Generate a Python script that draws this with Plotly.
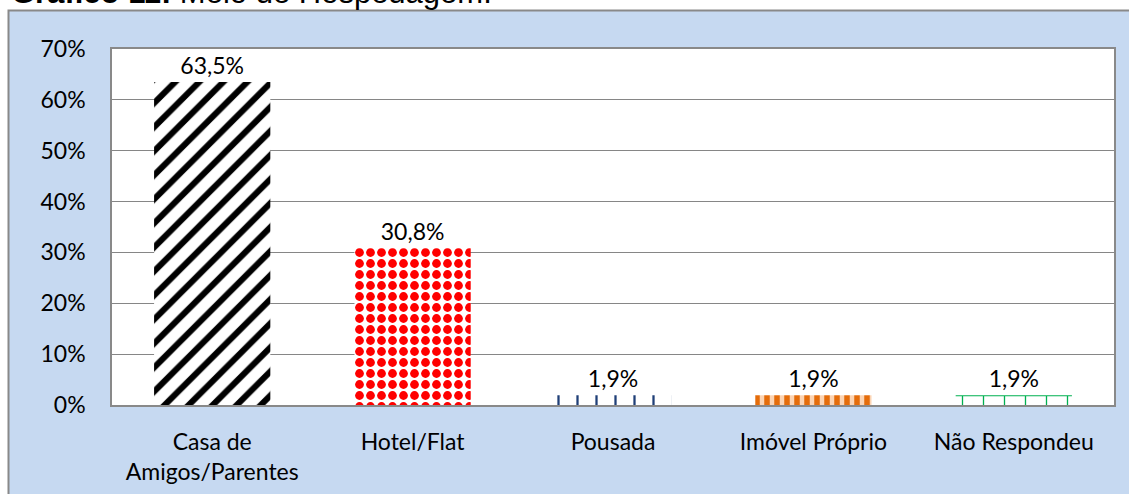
import plotly.graph_objects as go

categorias = ["Casa de<br>Amigos/Parentes", "Hotel/Flat", "Pousada", "Imóvel Próprio", "Não Respondeu"]
valores = [63.5, 30.8, 1.9, 1.9, 1.9]
rotulos = [f"{v:.1f}%".replace(".", ",") for v in valores]
ticks_y = [0, 10, 20, 30, 40, 50, 60, 70]

fonte = "Lato"
cinza = "#898989"

padroes = dict(
    shape=["/", ".", "|", "|", "+"],
    fgcolor=["black", "#FF0000", "#1F3F77", "#E46C0A", "#00B050"],
    bgcolor=["white", "white", "white", "#FBD4B4", "white"],
    size=[17, 11, 19, 10, 21],
    solidity=[0.36, 0.5, 0.12, 0.55, 0.12],
    fillmode="replace",
)

fig = go.Figure(go.Bar(
    x=categorias, y=valores,
    text=rotulos, textposition="outside",
    textfont=dict(family=fonte, size=23, color="black"),
    marker=dict(color="white", line=dict(width=0), pattern=padroes),
    cliponaxis=False,
))

# moldura azul do gráfico
fig.add_shape(type="rect", xref="paper", yref="paper",
              x0=-0.1033, x1=1.05, y0=-0.4, y1=1.108,
              fillcolor="#C6D9F1", line=dict(color=cinza, width=2), layer="below")
fig.add_shape(type="rect", xref="paper", yref="paper",
              x0=0, x1=1, y0=0, y1=1,
              fillcolor="white", line=dict(width=0), layer="below")

# título cortado no topo, como na imagem original
fig.add_annotation(text="<b>Gráfico 11:</b> Meio de Hospedagem:",
                   xref="paper", yref="paper", x=-0.103, y=1.104,
                   xanchor="left", yanchor="bottom", showarrow=False,
                   font=dict(family="Liberation Sans", size=31, color="black"))

fig.update_layout(
    width=1129, height=494,
    margin=dict(l=112, r=15, t=49, b=89),
    paper_bgcolor="white", plot_bgcolor="white",
    bargap=0.42, showlegend=False,
    font=dict(family=fonte, size=23, color="black"),
)
fig.update_xaxes(showline=True, linecolor=cinza, linewidth=1.5, mirror=True,
                 ticks="", ticklabelstandoff=16, automargin=False,
                 tickfont=dict(family=fonte, size=23, color="black"))
fig.update_yaxes(range=[0, 70], tickvals=ticks_y,
                 ticktext=[f"{t}%" for t in ticks_y],
                 showgrid=True, gridcolor="#868686", gridwidth=1,
                 showline=True, linecolor=cinza, linewidth=1.5, mirror=True,
                 zeroline=False, ticks="", ticklabelstandoff=20, automargin=False,
                 tickfont=dict(family=fonte, size=23, color="black"))

fig.write_html("out.html", config={"displayModeBar": False},
               post_script="document.body.style.margin='0';")
